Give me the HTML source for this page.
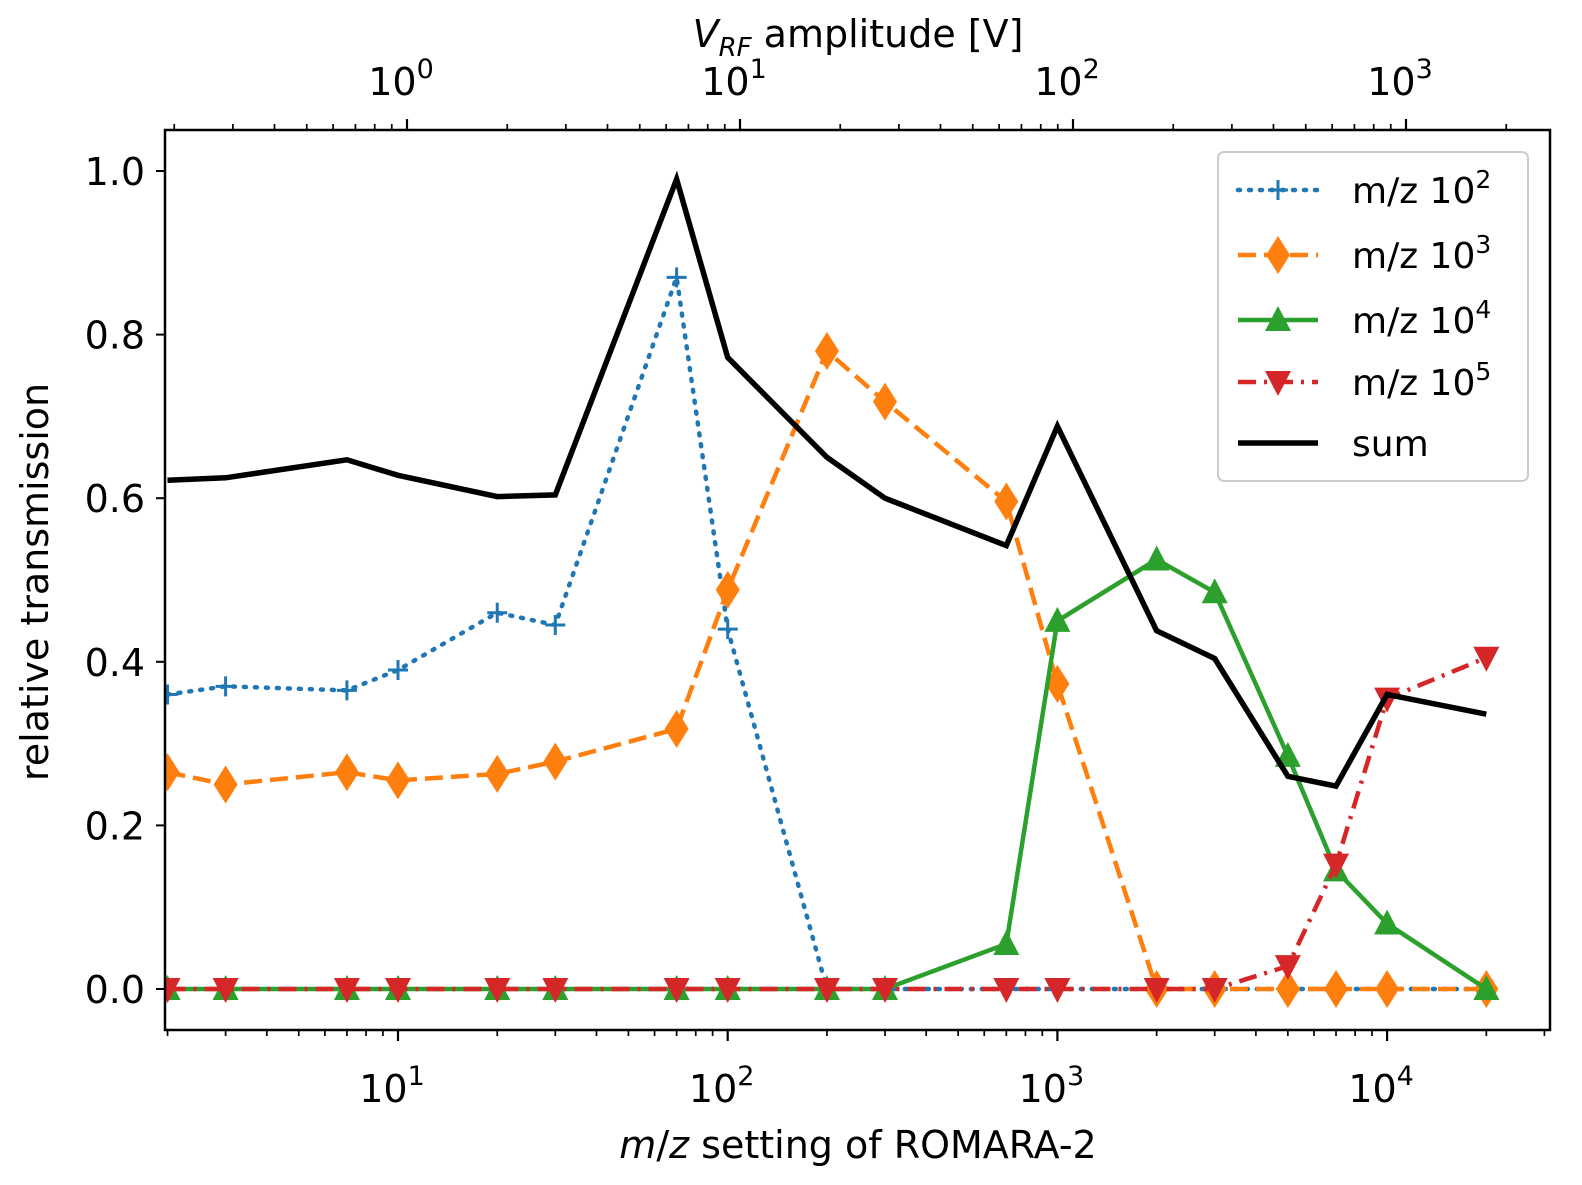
<!DOCTYPE html>
<html><head><meta charset="utf-8"><style>
html,body{margin:0;padding:0;background:#fff;overflow:hidden;width:1582px;height:1185px}
svg{display:block;position:absolute;left:0;top:0}
text{font-family:"DejaVu Sans","Liberation Sans",sans-serif;fill:#000}
</style></head><body>
<svg id="chart" width="1582" height="1185" xmlns="http://www.w3.org/2000/svg">
<rect width="1582" height="1185" fill="#fff"/>
<g id="marks"></g>
<g id="axes"></g>
</svg>
<script>
const mz = [2,3,7,10,20,30,70,100,200,300,700,1000,2000,3000,5000,7000,10000,20000];
const s100 = [0.36,0.37,0.365,0.39,0.46,0.445,0.87,0.44,0,0,0,0,0,0,0,0,0,0];
const s1000 = [0.265,0.25,0.265,0.255,0.263,0.278,0.318,0.488,0.78,0.718,0.596,0.373,0,0,0,0,0,0];
const s10000 = [0,0,0,0,0,0,0,0,0,0,0.055,0.45,0.525,0.485,0.285,0.145,0.08,0];
const s100000 = [0,0,0,0,0,0,0,0,0,0,0,0,0,0,0.028,0.152,0.355,0.405];
const sSum = [0.622,0.625,0.647,0.628,0.602,0.604,0.99,0.772,0.65,0.6,0.542,0.688,0.438,0.404,0.26,0.248,0.36,0.336];
const yTicks = [0,0.2,0.4,0.6,0.8,1.0];
const yTickLabels = ["0.0","0.2","0.4","0.6","0.8","1.0"];
const xDecades = [1,2,3,4];
const vDecades = [0,1,2,3];

const L=165,R=1550,T=130,B=1030;
const X = v => 398 + (Math.log10(v)-1)*329.7;
const XV = v => 407 + Math.log10(v)*333;
const Y = v => 989 - v*818;
const NS="http://www.w3.org/2000/svg";
function el(tag,attrs,parent){const e=document.createElementNS(NS,tag);for(const k in attrs)e.setAttribute(k,attrs[k]);parent.appendChild(e);return e;}
const marks=document.getElementById('marks'), axes=document.getElementById('axes');
const clip=el('clipPath',{id:'pc'},marks); el('rect',{x:L,y:T,width:R-L,height:B-T},clip);
const plot=el('g',{'clip-path':'url(#pc)'},marks);

function marker(type,x,y,color,g){
  let m;
  if(type==='plus'){m=el('path',{d:`M${x-10},${y}H${x+10}M${x},${y-10}V${y+10}`,stroke:color,'stroke-width':3,fill:'none'},g);}
  else if(type==='diamond'){m=el('path',{d:`M${x},${y-19}L${x+12},${y}L${x},${y+19}L${x-12},${y}Z`,fill:color},g);}
  else if(type==='up'){m=el('path',{d:`M${x},${y-14}L${x+13},${y+11}L${x-13},${y+11}Z`,fill:color},g);}
  else if(type==='down'){m=el('path',{d:`M${x},${y+14}L${x+13},${y-11}L${x-13},${y-11}Z`,fill:color},g);}
  return m;
}
const series=[
 {name:'series-mz100',vals:s100,color:'#1f77b4',dash:'2,9',cap:'round',mk:'plus'},
 {name:'series-mz1000',vals:s1000,color:'#ff7f0e',dash:'18,8',cap:'butt',mk:'diamond'},
 {name:'series-mz10000',vals:s10000,color:'#2ca02c',dash:'',cap:'butt',mk:'up'},
 {name:'series-mz100000',vals:s100000,color:'#d62728',dash:'18,8,3,8',cap:'butt',mk:'down'},
 {name:'series-sum',vals:sSum,color:'#000',dash:'',cap:'butt',mk:null}
];
series.forEach(s=>{
  const g=el('g',{},plot);
  
  
  const d=s.vals.map((v,i)=>(i?'L':'M')+X(mz[i]).toFixed(1)+','+Y(v).toFixed(1)).join('');
  const p=el('path',{d:d,fill:'none',stroke:s.color,'stroke-width':s.mk?4.5:5.5,'stroke-dasharray':s.dash,'stroke-linecap':s.cap,'stroke-linejoin':'miter'},g);
  
  
  if(s.mk) s.vals.forEach((v,i)=>{
    const m=marker(s.mk,X(mz[i]),Y(v),s.color,g);
    
    
  });
});

const fr=el('rect',{x:L,y:T,width:R-L,height:B-T,fill:'none',stroke:'#000','stroke-width':2.5},axes);


yTicks.forEach((v,i)=>{
  el('line',{x1:L-9,x2:L,y1:Y(v),y2:Y(v),stroke:'#000','stroke-width':2},axes);
  const t=el('text',{x:L-20,y:Y(v)+14,'font-size':38,'text-anchor':'end'},axes);
  t.textContent=yTickLabels[i];
  
  
});
for(let d=0;d<=4;d++){for(let k=1;k<10;k++){const v=k*Math.pow(10,d);const x=X(v);if(x<L||x>R)continue;
  el('line',{x1:x,x2:x,y1:B,y2:B+(k===1?11:6),stroke:'#000','stroke-width':k===1?2.2:1.7},axes);}}
xDecades.forEach(d=>{
  const t=el('text',{x:X(Math.pow(10,d))-6,y:B+72,'font-size':38,'text-anchor':'middle'},axes);
  t.innerHTML='10<tspan dy="-17" font-size="27">'+d+'</tspan>';
  
  
});
for(let d=-1;d<=3;d++){for(let k=1;k<10;k++){const v=k*Math.pow(10,d);const x=XV(v);if(x<L||x>R)continue;
  el('line',{x1:x,x2:x,y1:T,y2:T-(k===1?11:6),stroke:'#000','stroke-width':k===1?2.2:1.7},axes);}}
vDecades.forEach(d=>{
  const t=el('text',{x:XV(Math.pow(10,d))-6,y:T-35,'font-size':38,'text-anchor':'middle'},axes);
  t.innerHTML='10<tspan dy="-17" font-size="27">'+d+'</tspan>';
  
  
});
</script>
<svg width="1582" height="1185">
<text x="858" y="1158" font-size="38" text-anchor="middle"><tspan font-style="italic">m</tspan>/<tspan font-style="italic">z</tspan> setting of ROMARA-2</text>
<text x="858" y="47" font-size="38" text-anchor="middle"><tspan font-style="italic">V</tspan><tspan font-style="italic" font-size="26" dy="9">RF</tspan><tspan dy="-9"> amplitude [V]</tspan></text>
<text transform="translate(48,582) rotate(-90)" font-size="38" text-anchor="middle">relative transmission</text>
<g>
<rect x="1218" y="152" width="310" height="329" rx="6" fill="#fff" fill-opacity="0.85" stroke="#ccc" stroke-width="2"/>
<line x1="1238" x2="1318" y1="190" y2="190" stroke="#1f77b4" stroke-width="4.5" stroke-dasharray="2,9" stroke-linecap="round"/>
<path d="M1268,190H1288M1278,180V200" stroke="#1f77b4" stroke-width="3"/>
<text x="1352" y="203" font-size="36">m/z 10<tspan dy="-15" font-size="25">2</tspan></text>
<line x1="1238" x2="1318" y1="255" y2="255" stroke="#ff7f0e" stroke-width="4.5" stroke-dasharray="18,8"/>
<path d="M1278,236L1290,255L1278,274L1266,255Z" fill="#ff7f0e"/>
<text x="1352" y="268" font-size="36">m/z 10<tspan dy="-15" font-size="25">3</tspan></text>
<line x1="1238" x2="1318" y1="320" y2="320" stroke="#2ca02c" stroke-width="4.5"/>
<path d="M1278,306L1291,331L1265,331Z" fill="#2ca02c"/>
<text x="1352" y="333" font-size="36">m/z 10<tspan dy="-15" font-size="25">4</tspan></text>
<line x1="1238" x2="1318" y1="382" y2="382" stroke="#d62728" stroke-width="4.5" stroke-dasharray="18,8,3,8"/>
<path d="M1278,396L1291,371L1265,371Z" fill="#d62728"/>
<text x="1352" y="395" font-size="36">m/z 10<tspan dy="-15" font-size="25">5</tspan></text>
<line x1="1238" x2="1318" y1="443" y2="443" stroke="#000" stroke-width="5.5"/>
<text x="1352" y="456" font-size="36">sum</text>
</g>
</svg>
</body></html>
